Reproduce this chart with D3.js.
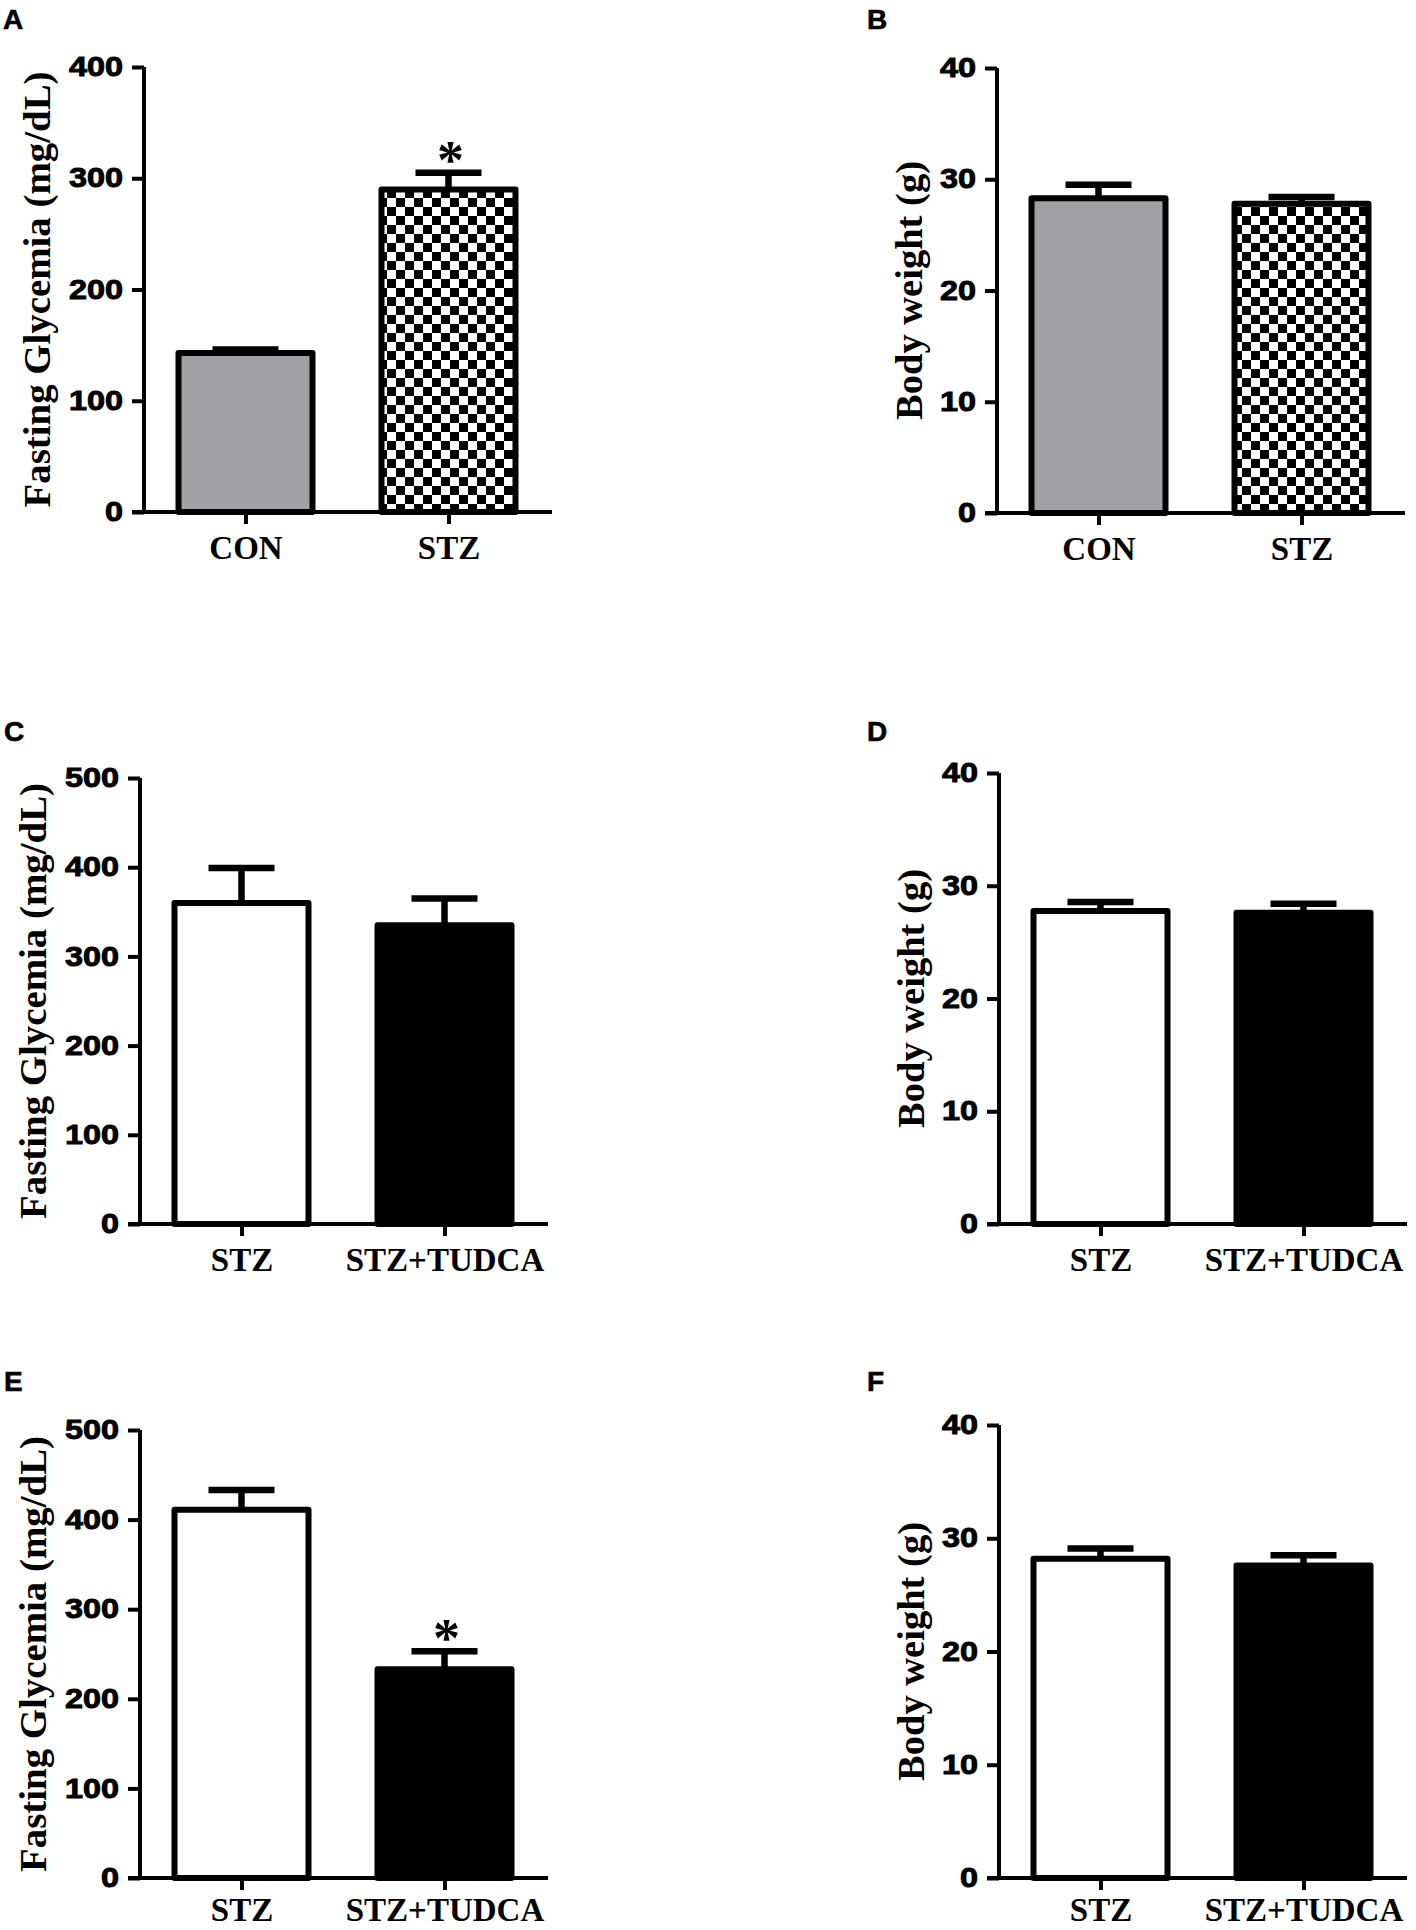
<!DOCTYPE html>
<html>
<head>
<meta charset="utf-8">
<script src="https://cdn.jsdelivr.net/npm/d3@7"></script>
<style>
  body { margin: 0; background: #fff; }
  svg { display: block; }
</style>
</head>
<body>
<div id="chart"></div>
<script>
// Data
const groupsModel = ["CON", "STZ"];
const groupsTreat = ["STZ", "STZ+TUDCA"];

const glycemiaA = [143, 290];
const glycemiaAErr = [3, 15];
const weightB = [28.3, 27.8];
const weightBErr = [1.2, 0.6];
const glycemiaC = [360, 335];
const glycemiaCErr = [39, 30];
const weightD = [27.75, 27.6];
const weightDErr = [0.8, 0.8];
const glycemiaE = [411, 233];
const glycemiaEErr = [22, 20];
const weightF = [28.2, 27.6];
const weightFErr = [0.9, 0.9];

const sigA = [false, true];
const sigE = [false, true];
const sigNone = [false, false];

const ticksGly400 = [0, 100, 200, 300, 400];
const ticksGly500 = [0, 100, 200, 300, 400, 500];
const ticksWeight = [0, 10, 20, 30, 40];

const titleGly = "Fasting Glycemia (mg/dL)";
const titleWeight = "Body weight (g)";

// Panel layout (pixel positions of each plot)
const panels = [
  { letter: "A", lx: 3,   ly: 29,   ax: 144, top: 67,   zero: 512,  labY: 47, groups: groupsModel, values: glycemiaA, errs: glycemiaAErr, sig: sigA,    ticks: ticksGly400, title: titleGly,    fills: ["gray", "check"] },
  { letter: "B", lx: 867, ly: 29,   ax: 997, top: 68,   zero: 513,  labY: 47, groups: groupsModel, values: weightB,   errs: weightBErr,   sig: sigNone, ticks: ticksWeight, title: titleWeight, fills: ["gray", "check"] },
  { letter: "C", lx: 4,   ly: 741,  ax: 140, top: 778,  zero: 1224, labY: 47, groups: groupsTreat, values: glycemiaC, errs: glycemiaCErr, sig: sigNone, ticks: ticksGly500, title: titleGly,    fills: ["white", "black"] },
  { letter: "D", lx: 867, ly: 741,  ax: 999, top: 773,  zero: 1224, labY: 47, groups: groupsTreat, values: weightD,   errs: weightDErr,   sig: sigNone, ticks: ticksWeight, title: titleWeight, fills: ["white", "black"] },
  { letter: "E", lx: 4,   ly: 1391, ax: 140, top: 1430, zero: 1878, labY: 43, groups: groupsTreat, values: glycemiaE, errs: glycemiaEErr, sig: sigE,    ticks: ticksGly500, title: titleGly,    fills: ["white", "black"] },
  { letter: "F", lx: 867, ly: 1391, ax: 999, top: 1425, zero: 1878, labY: 43, groups: groupsTreat, values: weightF,   errs: weightFErr,   sig: sigNone, ticks: ticksWeight, title: titleWeight, fills: ["white", "black"] }
];

const W = 1416, H = 1930;
const xLen = 406;       // length of the category axis
const barW = 134;       // bar width (stroke centred, outer ~140)
const capW = 66;
const sansFont = "'Liberation Sans', Arial, sans-serif";
const serifFont = "'Liberation Serif', 'Times New Roman', serif";

const svg = d3.select("#chart")
  .append("svg")
    .attr("width", W)
    .attr("height", H)
    .attr("viewBox", `0 0 ${W} ${H}`);

svg.append("rect").attr("width", W).attr("height", H).attr("fill", "#fff");

// Checkerboard pattern
const defs = svg.append("defs");
const pat = defs.append("pattern")
  .attr("id", "check")
  .attr("patternUnits", "userSpaceOnUse")
  .attr("width", 18)
  .attr("height", 18);
pat.append("rect").attr("width", 18).attr("height", 18).attr("fill", "#fff");
pat.append("rect").attr("width", 9).attr("height", 9).attr("fill", "#000");
pat.append("rect").attr("x", 9).attr("y", 9).attr("width", 9).attr("height", 9).attr("fill", "#000");

const fillFor = f => {
  if (f === "gray") return "#a1a1a5";
  if (f === "check") return "url(#check)";
  if (f === "black") return "#000";
  return "#fff";
};

panels.forEach(p => {
  const g = svg.append("g");
  const ymax = p.ticks[p.ticks.length - 1];

  const y = d3.scaleLinear().domain([0, ymax]).range([p.zero, p.top]);
  const x = d3.scalePoint().domain(p.groups).range([p.ax, p.ax + xLen]).padding(0.5);

  // Panel letter
  g.append("text")
    .attr("x", p.lx)
    .attr("y", p.ly)
    .attr("stroke", "#000")
    .attr("stroke-width", 0.6)
    .style("font-family", sansFont)
    .style("font-weight", "bold")
    .style("font-size", "28px")
    .text(p.letter);

  const data = p.groups.map((name, i) => ({ name, v: p.values[i], e: p.errs[i], sig: p.sig[i], fill: p.fills[i] }));

  // Error bars (upper only), drawn first so the bar top sits over the stem
  g.selectAll(".stem")
    .data(data)
    .join("line")
      .attr("x1", d => x(d.name))
      .attr("x2", d => x(d.name))
      .attr("y1", d => y(d.v))
      .attr("y2", d => y(d.v + d.e))
      .attr("stroke", "#000")
      .attr("stroke-width", 6.5);

  g.selectAll(".cap")
    .data(data)
    .join("line")
      .attr("x1", d => x(d.name) - capW / 2)
      .attr("x2", d => x(d.name) + capW / 2)
      .attr("y1", d => y(d.v + d.e))
      .attr("y2", d => y(d.v + d.e))
      .attr("stroke", "#000")
      .attr("stroke-width", 6.5);

  // Bars
  g.selectAll(".bar")
    .data(data)
    .join("rect")
      .attr("x", d => x(d.name) - barW / 2)
      .attr("y", d => y(d.v))
      .attr("width", barW)
      .attr("height", d => y(0) - y(d.v))
      .attr("fill", d => fillFor(d.fill))
      .attr("stroke", "#000")
      .attr("stroke-width", 6)
      .attr("stroke-linejoin", "round");

  // Significance star
  g.selectAll(".star")
    .data(data.filter(d => d.sig))
    .join("text")
      .attr("x", d => x(d.name) + 2)
      .attr("y", d => y(d.v + d.e) + 5)
      .attr("text-anchor", "middle")
      .style("font-family", serifFont)
      .style("font-weight", "bold")
      .style("font-size", "54px")
      .text("*");

  // Y axis
  const yAxis = g.append("g")
    .attr("transform", `translate(${p.ax},0)`)
    .call(d3.axisLeft(y).tickValues(p.ticks).tickSize(12).tickSizeOuter(0).tickPadding(9));
  yAxis.select(".domain").attr("stroke-width", 4).attr("d", `M0,${p.top}V${p.zero + 2}`);
  yAxis.selectAll(".tick line").attr("stroke-width", 4);
  yAxis.selectAll(".tick text")
    .attr("x", -21 / 1.2)
    .attr("transform", "scale(1.2,1)")
    .attr("fill", "#000")
    .attr("stroke", "#000")
    .attr("stroke-width", 0.9)
    .style("font-family", sansFont)
    .style("font-weight", "bold")
    .style("font-size", "27px");

  // X axis
  g.append("line")
    .attr("x1", p.ax - 12)
    .attr("x2", p.ax + xLen + 2)
    .attr("y1", p.zero)
    .attr("y2", p.zero)
    .attr("stroke", "#000")
    .attr("stroke-width", 4);

  const xAxis = g.append("g")
    .attr("transform", `translate(0,${p.zero})`)
    .call(d3.axisBottom(x).tickSize(12).tickPadding(0));
  xAxis.select(".domain").remove();
  xAxis.selectAll(".tick line").attr("stroke-width", 4);
  xAxis.selectAll(".tick text")
    .attr("y", p.labY)
    .attr("dy", 0)
    .attr("fill", "#000")
    .style("font-family", serifFont)
    .style("font-weight", "bold")
    .style("font-size", "33px");

  // Y title
  const titleLen = p.title === titleGly ? 436 : 259;
  const titleX = p.ax - (p.title === titleGly ? 94 : 75);
  g.append("text")
    .attr("transform", `translate(${titleX},${(p.top + p.zero) / 2}) rotate(-90)`)
    .attr("text-anchor", "middle")
    .attr("textLength", titleLen)
    .attr("lengthAdjust", "spacingAndGlyphs")
    .style("font-family", serifFont)
    .style("font-weight", "bold")
    .style("font-size", "38px")
    .text(p.title);
});
</script>
</body>
</html>
